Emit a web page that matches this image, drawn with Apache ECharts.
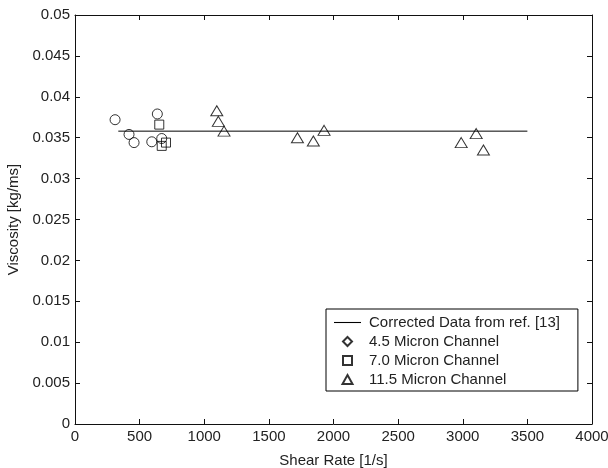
<!DOCTYPE html>
<html>
<head>
<meta charset="utf-8">
<script src="https://cdn.jsdelivr.net/npm/echarts@6/dist/echarts.min.js"></script>
<style>html,body{margin:0;padding:0;background:#fff}#c{width:608px;height:468px}</style>
</head>
<body>
<div id="c"></div>
<script>
const xTicks = [0, 500, 1000, 1500, 2000, 2500, 3000, 3500, 4000];
const yTicks = [0, 0.005, 0.01, 0.015, 0.02, 0.025, 0.03, 0.035, 0.04, 0.045, 0.05];
const seriesNames = ['Corrected Data from ref. [13]', '4.5 Micron Channel', '7.0 Micron Channel', '11.5 Micron Channel'];
const lineX = [335, 3500];
const lineY = [0.0358, 0.0358];
const c45x = [310, 418, 457, 594, 637, 671];
const c45y = [0.0372, 0.0354, 0.0344, 0.0345, 0.0379, 0.0349];
const c70x = [652, 671, 704];
const c70y = [0.0366, 0.0340, 0.0344];
const c115x = [1097, 1109, 1153, 1721, 1844, 1927, 2988, 3104, 3160];
const c115y = [0.0383, 0.0370, 0.0358, 0.0350, 0.0346, 0.0359, 0.0344, 0.0355, 0.0335];

const zip = (a, b) => a.map((v, i) => [v, b[i]]);
const font = 'Liberation Sans, Arial, sans-serif';
const fs = 15;
const axisCol = '#111';
const txtCol = '#222';
const hollow = {color: 'rgba(255,255,255,0)', borderColor: '#000', borderWidth: 1};

const chart = echarts.init(document.getElementById('c'), null, {renderer: 'canvas'});
const mainX = {
  type: 'value', min: 0, max: 4000, interval: 500,
  name: 'Shear Rate [1/s]', nameLocation: 'middle', nameGap: 29,
  nameTextStyle: {fontFamily: font, fontSize: fs, color: txtCol},
  axisLine: {show: true, onZero: false, lineStyle: {color: axisCol, width: 1}},
  axisTick: {show: true, inside: true, length: 5, lineStyle: {color: axisCol}},
  axisLabel: {fontFamily: font, fontSize: fs, color: txtCol, margin: 5,
    formatter: v => { const t = xTicks.find(k => Math.abs(k - v) < 1e-6); return t === undefined ? '' : String(t); }},
  splitLine: {show: false}
};
const mainY = {
  type: 'value', min: 0, max: 0.05, interval: 0.005,
  name: 'Viscosity [kg/ms]', nameLocation: 'middle', nameGap: 50,
  nameTextStyle: {fontFamily: font, fontSize: fs, color: txtCol},
  axisLine: {show: true, onZero: false, lineStyle: {color: axisCol, width: 1}},
  axisTick: {show: true, inside: true, length: 5, lineStyle: {color: axisCol}},
  axisLabel: {fontFamily: font, fontSize: fs, color: txtCol, margin: 5,
    formatter: v => { const t = yTicks.find(k => Math.abs(k - v) < 1e-9); return t === undefined ? '' : String(+t.toFixed(3)); }},
  splitLine: {show: false}
};
const mirror = (base, pos) => Object.assign({}, base, {position: pos, name: '', axisLabel: {show: false}});

chart.setOption({
  animation: false,
  backgroundColor: '#fff',
  grid: {left: 75, right: 16, top: 15, bottom: 44, containLabel: false, outerBoundsMode: 'none'},
  xAxis: [mainX, mirror(mainX, 'top')],
  yAxis: [mainY, mirror(mainY, 'right')],
  legend: {
    orient: 'vertical', left: 326, top: 309,
    backgroundColor: '#fff',
    borderColor: '#000', borderWidth: 1,
    padding: [6, 18, 4, 8],
    itemGap: 4, itemWidth: 27, itemHeight: 9,
    symbolKeepAspect: true,
    textStyle: {fontFamily: font, fontSize: fs, color: txtCol, padding: [0, 0, 0, 3]},
    data: [
      {name: seriesNames[0], icon: 'path://M0 0H100V4H0Z', itemStyle: {color: '#000', borderWidth: 0}},
      {name: seriesNames[1], icon: 'path://M5 0L10 5L5 10L0 5Z'},
      {name: seriesNames[2], icon: 'path://M0 0H10V10H0Z'},
      {name: seriesNames[3], icon: 'path://M5 0L10 9L0 9Z'}
    ]
  },
  series: [
    {name: seriesNames[0], type: 'line', data: zip(lineX, lineY), symbol: 'none',
      lineStyle: {color: '#000', width: 1}, itemStyle: {color: '#000'}},
    {name: seriesNames[1], type: 'scatter', data: zip(c45x, c45y), symbol: 'circle', symbolSize: 10,
      itemStyle: hollow},
    {name: seriesNames[2], type: 'scatter', data: zip(c70x, c70y), symbol: 'rect', symbolSize: 9,
      itemStyle: hollow},
    {name: seriesNames[3], type: 'scatter', data: zip(c115x, c115y), symbol: 'triangle', symbolSize: [12, 10],
      itemStyle: hollow}
  ]
});
</script>
</body>
</html>
